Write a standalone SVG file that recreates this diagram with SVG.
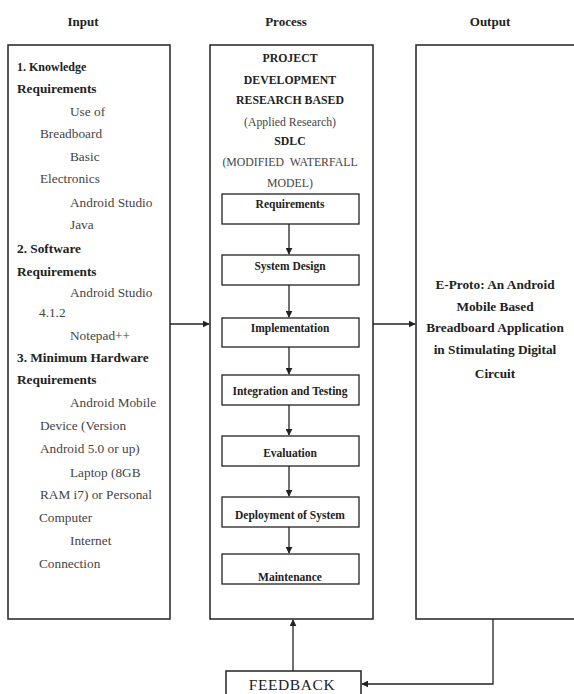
<svg xmlns="http://www.w3.org/2000/svg" width="574" height="694" viewBox="0 0 574 694">
<defs>
<style>
.box{fill:#fff;stroke:#222;stroke-width:1.5}
.ibox{fill:#fff;stroke:#222;stroke-width:1.3}
.t{font-family:"Liberation Serif","Times New Roman",serif;fill:#222}
.h{font-size:13px;font-weight:bold}
.b{font-size:13.3px;font-weight:bold}
.r{font-size:13.3px;fill:#444}
.pb{font-size:11.8px;font-weight:bold;text-anchor:middle}
.pr{font-size:11.8px;fill:#444;text-anchor:middle}
.lb{font-size:11.5px;font-weight:bold;text-anchor:middle}
.ob{font-size:13.3px;font-weight:bold;text-anchor:middle}
.ln{fill:none;stroke:#222;stroke-width:1.3}
</style>
<marker id="ah" viewBox="0 0 10 10" refX="9" refY="5" markerWidth="7" markerHeight="7" orient="auto" markerUnits="userSpaceOnUse">
<path d="M0,0 L10,5 L0,10 z" fill="#222"/>
</marker>
</defs>
<rect width="574" height="694" fill="#fff"/>

<g id="headers" class="t h">
<text x="83" y="26" text-anchor="middle">Input</text>
<text x="286" y="26" text-anchor="middle">Process</text>
<text x="490" y="26" text-anchor="middle">Output</text>
</g>

<g id="input">
<rect class="box" x="8" y="45" width="162" height="574"/>
<g class="t">
<text class="b" x="17" y="71" style="font-size:12px">1. Knowledge</text>
<text class="b" x="17" y="93">Requirements</text>
<text class="r" x="70" y="116">Use of</text>
<text class="r" x="40" y="138">Breadboard</text>
<text class="r" x="70" y="161">Basic</text>
<text class="r" x="40" y="183">Electronics</text>
<text class="r" x="70" y="207">Android Studio</text>
<text class="r" x="70" y="229">Java</text>
<text class="b" x="17" y="253">2. Software</text>
<text class="b" x="17" y="276">Requirements</text>
<text class="r" x="70" y="297">Android Studio</text>
<text class="r" x="39" y="317">4.1.2</text>
<text class="r" x="70" y="340">Notepad++</text>
<text class="b" x="17" y="362">3. Minimum Hardware</text>
<text class="b" x="17" y="384">Requirements</text>
<text class="r" x="70" y="407">Android Mobile</text>
<text class="r" x="40" y="430">Device (Version</text>
<text class="r" x="40" y="453">Android 5.0 or up)</text>
<text class="r" x="70" y="477">Laptop (8GB</text>
<text class="r" x="40" y="499">RAM i7) or Personal</text>
<text class="r" x="39" y="522">Computer</text>
<text class="r" x="70" y="545">Internet</text>
<text class="r" x="39" y="568">Connection</text>
</g>
</g>

<g id="process">
<rect class="box" x="210" y="45" width="163" height="574"/>
<g class="t">
<text class="pb" x="290" y="62">PROJECT</text>
<text class="pb" x="290" y="84">DEVELOPMENT</text>
<text class="pb" x="290" y="104">RESEARCH BASED</text>
<text class="pr" x="290" y="126">(Applied Research)</text>
<text class="pb" x="290" y="145">SDLC</text>
<text class="pr" x="290" y="166" xml:space="preserve">(MODIFIED  WATERFALL</text>
<text class="pr" x="290" y="187">MODEL)</text>
</g>
</g>

<g id="requirements"><rect class="ibox" x="222" y="194" width="137" height="30"/><text class="t lb" x="290" y="208">Requirements</text></g>
<g id="system-design"><rect class="ibox" x="222" y="255" width="137" height="30"/><text class="t lb" x="290" y="270">System Design</text></g>
<g id="implementation"><rect class="ibox" x="222" y="318" width="137" height="29"/><text class="t lb" x="290" y="332">Implementation</text></g>
<g id="integration"><rect class="ibox" x="222" y="375" width="137" height="30"/><text class="t lb" x="290" y="395">Integration and Testing</text></g>
<g id="evaluation"><rect class="ibox" x="222" y="436" width="137" height="30"/><text class="t lb" x="290" y="457">Evaluation</text></g>
<g id="deployment"><rect class="ibox" x="222" y="497" width="137" height="30"/><text class="t lb" x="290" y="519">Deployment of System</text></g>
<g id="maintenance"><rect class="ibox" x="222" y="554" width="137" height="30"/><text class="t lb" x="290" y="581">Maintenance</text></g>

<g id="output">
<rect class="box" x="416" y="45" width="170" height="574"/>
<g class="t">
<text class="ob" x="495" y="289">E-Proto: An Android</text>
<text class="ob" x="495" y="311">Mobile Based</text>
<text class="ob" x="495" y="332">Breadboard Application</text>
<text class="ob" x="495" y="354">in Stimulating Digital</text>
<text class="ob" x="495" y="378">Circuit</text>
</g>
</g>

<g id="feedback">
<rect class="box" x="226" y="671" width="135" height="40"/>
<text class="t" x="292" y="690" text-anchor="middle" style="font-size:15.5px;letter-spacing:0.6px">FEEDBACK</text>
</g>

<g id="connectors" class="ln">
<line x1="289" y1="224" x2="289" y2="254" marker-end="url(#ah)"/>
<line x1="289" y1="285" x2="289" y2="317" marker-end="url(#ah)"/>
<line x1="289" y1="347" x2="289" y2="374" marker-end="url(#ah)"/>
<line x1="289" y1="405" x2="289" y2="435" marker-end="url(#ah)"/>
<line x1="289" y1="466" x2="289" y2="496" marker-end="url(#ah)"/>
<line x1="289" y1="527" x2="289" y2="553" marker-end="url(#ah)"/>
<line x1="170" y1="324" x2="209" y2="324" marker-end="url(#ah)"/>
<line x1="373" y1="324" x2="415" y2="324" marker-end="url(#ah)"/>
<line x1="293" y1="671" x2="293" y2="620" marker-end="url(#ah)"/>
<polyline points="493,619 493,684 362,684" marker-end="url(#ah)"/>
</g>
</svg>
